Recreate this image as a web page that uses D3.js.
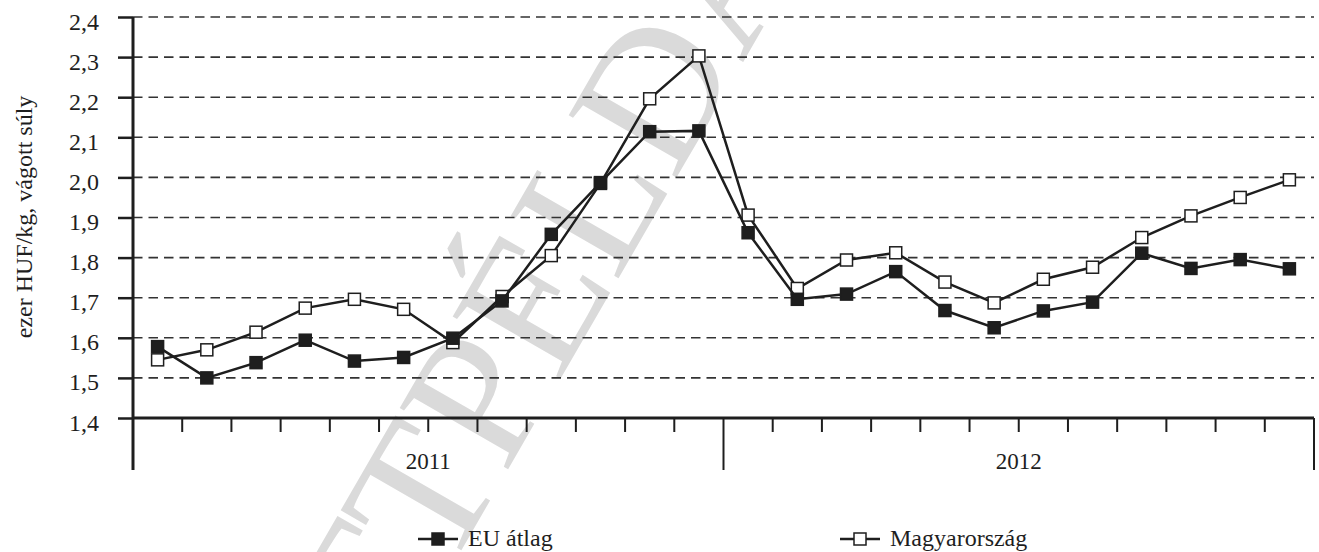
<!DOCTYPE html>
<html>
<head>
<meta charset="utf-8">
<script src="https://cdn.jsdelivr.net/npm/d3@7"></script>
<style>
  body { margin: 0; background: #fff; }
  svg { display: block; font-family: 'Liberation Serif', 'Times New Roman', serif; }
</style>
</head>
<body>
<svg id="chart" width="1319" height="552"></svg>
<script>
// monthly categories, 2011-2012
const years = ['2011', '2012']
const months = ['01', '02', '03', '04', '05', '06', '07', '08', '09', '10', '11', '12']
const categories = years.flatMap(y => months.map(m => y + '.' + m))

const yTicks = [1.4, 1.5, 1.6, 1.7, 1.8, 1.9, 2.0, 2.1, 2.2, 2.3, 2.4]

// ezer HUF/kg, vágott súly
const euAvg = [1.578, 1.500, 1.538, 1.594, 1.542, 1.551, 1.599, 1.692, 1.858, 1.987, 2.114, 2.116,
               1.862, 1.696, 1.709, 1.765, 1.668, 1.625, 1.667, 1.689, 1.811, 1.773, 1.795, 1.772]
const hungary = [1.545, 1.570, 1.614, 1.674, 1.696, 1.671, 1.588, 1.703, 1.805, 1.985, 2.196, 2.303,
                 1.906, 1.723, 1.794, 1.812, 1.739, 1.687, 1.746, 1.776, 1.850, 1.904, 1.950, 1.994]

const series = [
  { name: 'Magyarország', values: hungary, fill: '#fff' },
  { name: 'EU átlag', values: euAvg, fill: '#1e1e1e' }
]

const ink = '#1e1e1e'
const plotLeft = 133, plotRight = 1314, plotTop = 17, plotBase = 418

let svg = d3.select('#chart')

let x = d3.scaleBand().domain(categories).range([plotLeft, plotRight])
let xYear = d3.scaleBand().domain(years).range([plotLeft, plotRight])
let y = d3.scaleLinear().domain([1.4, 2.4]).range([plotBase, plotTop])

// watermark
svg.append('text')
  .attr('transform', 'translate(555,260) rotate(-60)')
  .attr('text-anchor', 'middle')
  .attr('dominant-baseline', 'central')
  .style('font-size', '190px')
  .style('fill', '#dadada')
  .text('LETTPÉLDÁNY')

// dashed grid
svg.append('g')
  .selectAll('line')
  .data(yTicks.slice(1))
  .enter().append('line')
    .attr('x1', plotLeft).attr('x2', plotRight)
    .attr('y1', d => y(d)).attr('y2', d => y(d))
    .attr('stroke', '#333')
    .attr('stroke-width', 1.6)
    .attr('stroke-dasharray', '9.5,6')

// y axis
let yAxis = svg.append('g')
  .attr('transform', `translate(${plotLeft},0)`)
  .call(d3.axisLeft(y)
    .tickValues(yTicks)
    .tickSize(15)
    .tickPadding(19)
    .tickFormat(d => d3.format('.1f')(d).replace('.', ',')))
yAxis.select('.domain').remove()
yAxis.selectAll('.tick line').attr('stroke', ink).attr('stroke-width', 2.5)
yAxis.selectAll('.tick text')
  .attr('fill', ink)
  .attr('dy', '0.5em')
  .style('font-size', '24px')
  .style('font-family', 'Liberation Serif')

svg.append('line')
  .attr('x1', plotLeft).attr('x2', plotLeft)
  .attr('y1', plotTop).attr('y2', 470)
  .attr('stroke', ink).attr('stroke-width', 3)

// x axis
svg.append('line')
  .attr('x1', plotLeft).attr('x2', plotRight)
  .attr('y1', plotBase).attr('y2', plotBase)
  .attr('stroke', ink).attr('stroke-width', 3)

svg.append('g')
  .selectAll('line')
  .data(categories.filter((d, i) => i % 12 !== 0))
  .enter().append('line')
    .attr('x1', d => x(d)).attr('x2', d => x(d))
    .attr('y1', plotBase).attr('y2', 432)
    .attr('stroke', ink).attr('stroke-width', 2)

svg.append('g')
  .selectAll('line')
  .data(years.map(d => xYear(d)).concat([plotRight]))
  .enter().append('line')
    .attr('x1', d => d).attr('x2', d => d)
    .attr('y1', plotBase).attr('y2', 470)
    .attr('stroke', ink).attr('stroke-width', 2)

svg.append('g')
  .selectAll('text')
  .data(years)
  .enter().append('text')
    .attr('x', d => xYear(d) + xYear.bandwidth() / 2)
    .attr('y', 469)
    .attr('text-anchor', 'middle')
    .style('font-size', '23px')
    .attr('fill', ink)
    .text(d => d)

// y title
svg.append('text')
  .attr('transform', 'translate(32,217) rotate(-90)')
  .attr('text-anchor', 'middle')
  .style('font-size', '24px')
  .attr('fill', ink)
  .text('ezer HUF/kg, vágott súly')

// lines + markers
let line = d3.line()
  .x((d, i) => x(categories[i]) + x.bandwidth() / 2)
  .y(d => y(d))

series.forEach(s => {
  let g = svg.append('g')
  g.append('path')
    .datum(s.values)
    .attr('d', line)
    .attr('fill', 'none')
    .attr('stroke', ink)
    .attr('stroke-width', 2.5)
  g.selectAll('rect')
    .data(s.values)
    .enter().append('rect')
      .attr('x', (d, i) => x(categories[i]) + x.bandwidth() / 2 - 6)
      .attr('y', d => y(d) - 6)
      .attr('width', 12).attr('height', 12)
      .attr('fill', s.fill)
      .attr('stroke', ink)
      .attr('stroke-width', 1.5)
})

// legend
let legend = [
  { name: 'EU átlag', fill: '#1e1e1e', x: 418 },
  { name: 'Magyarország', fill: '#fff', x: 840 }
]
let lg = svg.append('g')
  .selectAll('g')
  .data(legend)
  .enter().append('g')
    .attr('transform', d => `translate(${d.x},539)`)
lg.append('line')
  .attr('x1', 0).attr('x2', 40)
  .attr('stroke', ink).attr('stroke-width', 2.5)
lg.append('rect')
  .attr('x', 14).attr('y', -6).attr('width', 12).attr('height', 12)
  .attr('fill', d => d.fill)
  .attr('stroke', ink).attr('stroke-width', 1.5)
lg.append('text')
  .attr('x', 50).attr('y', 7)
  .style('font-size', '24px')
  .attr('fill', ink)
  .text(d => d.name)
</script>
</body>
</html>
